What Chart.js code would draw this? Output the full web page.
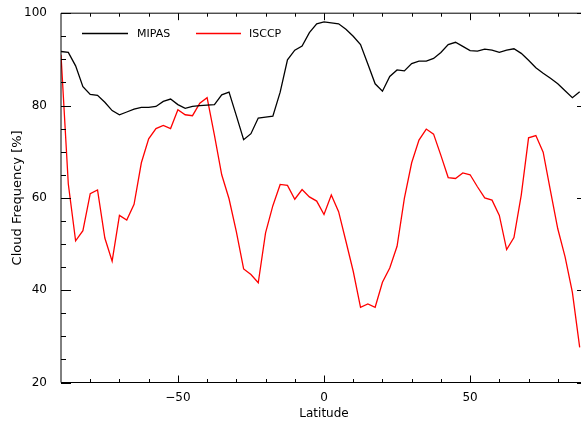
<!DOCTYPE html>
<html>
<head>
<meta charset="utf-8">
<title>Cloud Frequency</title>
<script src="https://cdn.jsdelivr.net/npm/chart.js@4.4.0/dist/chart.umd.min.js"></script>
<style>
    html, body { margin: 0; padding: 0; background: #fff; overflow: hidden; }
    #wrap { width: 600px; height: 427px; }
</style>
</head>
<body>
<div id="wrap"><canvas id="myChart" width="600" height="427"></canvas></div>
<script>
'use strict';

// Latitude grid of the zonal means (2.5 degree bins)
const latitudes = [
    -90, -87.5, -85, -82.5, -80, -77.5, -75, -72.5, -70, -67.5,
    -65, -62.5, -60, -57.5, -55, -52.5, -50, -47.5, -45, -42.5,
    -40, -37.5, -35, -32.5, -30, -27.5, -25, -22.5, -20, -17.5,
    -15, -12.5, -10, -7.5, -5, -2.5, 0, 2.5, 5, 7.5,
    10, 12.5, 15, 17.5, 20, 22.5, 25, 27.5, 30, 32.5,
    35, 37.5, 40, 42.5, 45, 47.5, 50, 52.5, 55, 57.5,
    60, 62.5, 65, 67.5, 70, 72.5, 75, 77.5, 80, 82.5,
    85, 87.5
];

// Cloud frequency [%]
const mipas = [
    91.7, 91.5, 88.6, 84.1, 82.4, 82.2, 80.7, 78.9, 78.0, 78.6,
    79.2, 79.6, 79.6, 79.8, 80.9, 81.4, 80.2, 79.4, 79.8, 80.0,
    80.1, 80.2, 82.3, 82.9, 77.8, 72.6, 73.9, 77.3, 77.5, 77.7,
    82.9, 89.9, 92.0, 92.9, 95.8, 97.7, 98.1, 97.9, 97.7, 96.5,
    95.0, 93.2, 89.0, 84.7, 83.1, 86.3, 87.7, 87.5, 89.1, 89.6,
    89.6, 90.2, 91.5, 93.2, 93.7, 92.8, 91.9, 91.8, 92.2, 92.0,
    91.5, 92.0, 92.3, 91.3, 89.8, 88.2, 87.0, 85.9, 84.7, 83.2,
    81.7, 83.0
];

const isccp = [
    91.0, 63.0, 50.7, 52.9, 60.9, 61.7, 51.3, 46.3, 56.2, 55.2,
    58.6, 67.6, 72.8, 75.0, 75.7, 75.0, 79.1, 78.0, 77.8, 80.5,
    81.7, 73.6, 65.0, 59.8, 52.7, 44.6, 43.4, 41.6, 52.4, 58.3,
    62.9, 62.7, 59.7, 61.8, 60.2, 59.3, 56.4, 60.6, 57.0, 50.6,
    44.1, 36.3, 37.0, 36.3, 41.7, 44.8, 49.5, 59.9, 67.6, 72.5,
    74.9, 73.8, 69.2, 64.4, 64.2, 65.4, 65.0, 62.4, 60.0, 59.5,
    56.2, 48.8, 51.4, 60.6, 73.0, 73.5, 69.9, 61.5, 53.3, 47.2,
    39.5, 27.6
];

// Tick positions
const xMajor = [-50, 0, 50];
const xMinor = [-80, -70, -60, -40, -30, -20, -10, 10, 20, 30, 40, 60, 70, 80];
const yMajor = [20, 40, 60, 80, 100];
const yMinor = [25, 30, 35, 45, 50, 55, 65, 70, 75, 85, 90, 95];

const FONT = 'DejaVu Sans';

function toPoints(values) {
    return latitudes.map((lat, i) => ({ x: lat, y: values[i] }));
}

// IDL style box: axes on all four sides with inward ticks, plus the legend
const boxPlugin = {
    id: 'boxPlugin',
    afterDraw(chart) {
        const { ctx, chartArea: a, scales: { x, y } } = chart;
        ctx.save();
        ctx.strokeStyle = '#000';
        ctx.lineWidth = 1;
        ctx.beginPath();
        ctx.rect(a.left, a.top, a.right - a.left, a.bottom - a.top);

        const xTick = (v, len) => {
            const px = Math.round(x.getPixelForValue(v)) + 0.5;
            ctx.moveTo(px, a.bottom); ctx.lineTo(px, a.bottom - len);
            ctx.moveTo(px, a.top); ctx.lineTo(px, a.top + len);
        };
        const yTick = (v, len) => {
            const py = Math.round(y.getPixelForValue(v)) + 0.5;
            ctx.moveTo(a.left, py); ctx.lineTo(a.left + len, py);
            ctx.moveTo(a.right, py); ctx.lineTo(a.right - len, py);
        };
        xMajor.forEach(v => xTick(v, 7));
        xMinor.forEach(v => xTick(v, 3.5));
        yMajor.forEach(v => yTick(v, 10));
        yMinor.forEach(v => yTick(v, 5));
        ctx.stroke();

        // legend
        const items = [
            { x0: 82, x1: 128, tx: 137 },
            { x0: 196, x1: 241, tx: 249 }
        ];
        ctx.font = '11px "' + FONT + '"';
        ctx.textBaseline = 'middle';
        ctx.fillStyle = '#000';
        ctx.lineWidth = 1.3;
        chart.data.datasets.forEach((ds, i) => {
            const it = items[i];
            ctx.beginPath();
            ctx.strokeStyle = ds.borderColor;
            ctx.moveTo(it.x0, 33.5);
            ctx.lineTo(it.x1, 33.5);
            ctx.stroke();
            ctx.fillText(ds.label, it.tx, 34);
        });
        ctx.restore();
    }
};

function createChart() {
    const ctx = document.getElementById('myChart').getContext('2d');

    new Chart(ctx, {
        type: 'line',
        data: {
            datasets: [
                {
                    label: 'MIPAS',
                    data: toPoints(mipas),
                    borderColor: '#000000',
                    borderWidth: 1.3,
                    pointRadius: 0,
                    tension: 0,
                    fill: false
                },
                {
                    label: 'ISCCP',
                    data: toPoints(isccp),
                    borderColor: '#ff0000',
                    borderWidth: 1.3,
                    pointRadius: 0,
                    tension: 0,
                    fill: false
                }
            ]
        },
        options: {
            responsive: false,
            animation: false,
            devicePixelRatio: 1,
            layout: { padding: { top: 9, right: 13, left: 0, bottom: 0 } },
            plugins: {
                legend: { display: false },
                tooltip: { enabled: false }
            },
            scales: {
                x: {
                    type: 'linear',
                    min: -90,
                    max: 90,
                    afterBuildTicks: s => { s.ticks = xMajor.map(v => ({ value: v })); },
                    afterFit: s => { s.height = 44.5; },
                    grid: { display: false },
                    border: { display: false },
                    ticks: {
                        color: '#000',
                        padding: 0,
                        maxRotation: 0,
                        font: { family: FONT, size: 12 },
                        callback: v => (v < 0 ? '\u2212' + Math.abs(v) : String(v))
                    },
                    title: {
                        display: true,
                        text: 'Latitude',
                        color: '#000',
                        font: { family: FONT, size: 12 },
                        padding: { top: 0, bottom: 6 }
                    }
                },
                y: {
                    min: 20,
                    max: 100,
                    afterBuildTicks: s => { s.ticks = yMajor.map(v => ({ value: v })); },
                    afterFit: s => { s.width = 61; },
                    grid: { display: false },
                    border: { display: false },
                    ticks: {
                        color: '#000',
                        padding: 6,
                        font: { family: FONT, size: 12 }
                    },
                    title: {
                        display: true,
                        text: 'Cloud Frequency [%]',
                        color: '#000',
                        font: { family: FONT, size: 13 },
                        padding: { top: 10, bottom: 0 }
                    }
                }
            }
        },
        plugins: [boxPlugin]
    });
}

window.onload = createChart;
</script>
</body>
</html>
